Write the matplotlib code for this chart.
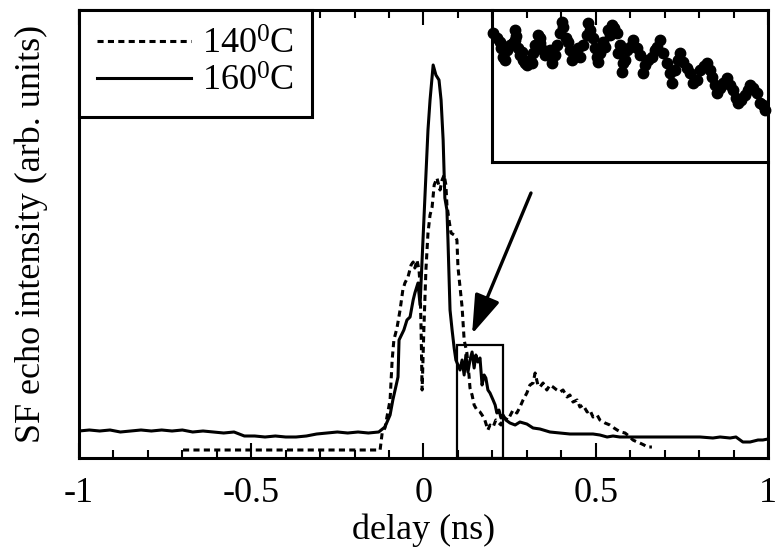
import matplotlib
matplotlib.use("Agg")
from matplotlib import pyplot as plt
from matplotlib.ticker import MultipleLocator, NullLocator
from matplotlib.patches import Rectangle

plt.rcParams['font.family'] = ['Liberation Serif', 'DejaVu Serif']
plt.rcParams['mathtext.fontset'] = 'custom'
plt.rcParams['mathtext.rm'] = 'Liberation Serif'

# 160 C trace (solid): delay (ns), intensity (arb. units)
t160 = [-1.00, -0.97, -0.94, -0.91, -0.88, -0.85, -0.82, -0.79, -0.76, -0.73,
        -0.70, -0.67, -0.64, -0.61, -0.58, -0.55, -0.52, -0.49, -0.46, -0.43,
        -0.40, -0.37, -0.34, -0.31, -0.28, -0.25, -0.22, -0.19, -0.16, -0.13,
        -0.112, -0.097, -0.089, -0.074, -0.071, -0.057, -0.048, -0.039, -0.030,
        -0.025, -0.016, -0.010, 0.004, 0.013, 0.019, 0.028, 0.036, 0.045, 0.051,
        0.057, 0.062, 0.068, 0.071, 0.077, 0.083, 0.089, 0.094, 0.100, 0.106,
        0.112, 0.118, 0.123, 0.129, 0.135, 0.141, 0.147, 0.152, 0.158, 0.164,
        0.170, 0.176, 0.181, 0.187, 0.193, 0.202, 0.208, 0.213, 0.219, 0.225,
        0.231, 0.239, 0.251, 0.266, 0.280, 0.300, 0.318, 0.338, 0.367, 0.396,
        0.425, 0.454, 0.492, 0.512, 0.533, 0.550, 0.570, 0.628, 0.686, 0.745,
        0.803, 0.840, 0.861, 0.890, 0.907, 0.927, 0.948, 0.971, 0.985, 1.000]
s160 = [0.27, 0.28, 0.27, 0.28, 0.26, 0.27, 0.28, 0.27, 0.28, 0.27,
        0.28, 0.26, 0.27, 0.26, 0.25, 0.26, 0.22, 0.22, 0.21, 0.22,
        0.21, 0.21, 0.22, 0.24, 0.25, 0.26, 0.25, 0.26, 0.25, 0.26,
        0.31, 0.43, 0.58, 0.81, 1.18, 1.28, 1.38, 1.41, 1.58,
        1.65, 1.75, 1.53, 2.60, 3.28, 3.58, 3.93, 3.83, 3.78, 3.58,
        3.18, 2.60, 2.48, 2.18, 1.48, 1.28, 1.10, 0.98, 0.93, 0.88,
        0.98, 0.83, 1.03, 0.86, 0.98, 1.06, 0.90, 1.03, 0.96, 1.00,
        0.73, 0.83, 0.80, 0.68, 0.65, 0.58, 0.53, 0.45, 0.48, 0.40,
        0.43, 0.38, 0.35, 0.33, 0.36, 0.34, 0.30, 0.29, 0.26, 0.25,
        0.24, 0.24, 0.24, 0.23, 0.21, 0.22, 0.21, 0.21, 0.21, 0.21,
        0.21, 0.20, 0.21, 0.20, 0.21, 0.16, 0.16, 0.18, 0.18, 0.19]

# 140 C trace (dashed)
t140 = [-0.698, -0.60, -0.50, -0.40, -0.30, -0.20, -0.126, -0.120, -0.112,
        -0.097, -0.091, -0.086, -0.077, -0.068, -0.060, -0.054, -0.045, -0.036,
        -0.030, -0.025, -0.019, -0.013, -0.010, -0.007, -0.004, 0.001, 0.007,
        0.013, 0.019, 0.025, 0.031, 0.039, 0.048, 0.054, 0.060, 0.065, 0.068,
        0.074, 0.080, 0.089, 0.097, 0.100, 0.106, 0.112, 0.118, 0.123, 0.126,
        0.132, 0.135, 0.141, 0.147, 0.155, 0.164, 0.170, 0.178, 0.187, 0.193,
        0.202, 0.210, 0.216, 0.225, 0.231, 0.245, 0.260, 0.271, 0.280, 0.289,
        0.300, 0.309, 0.318, 0.324, 0.332, 0.338, 0.347, 0.358, 0.367, 0.376,
        0.387, 0.396, 0.405, 0.417, 0.425, 0.434, 0.446, 0.454, 0.463, 0.475,
        0.483, 0.492, 0.504, 0.512, 0.527, 0.541, 0.553, 0.562, 0.573, 0.585,
        0.596, 0.608, 0.620, 0.628, 0.640, 0.649, 0.663]
s140 = [0.08, 0.08, 0.08, 0.08, 0.08, 0.08, 0.08, 0.25, 0.30,
        0.58, 0.98, 1.18, 1.30, 1.48, 1.68, 1.75, 1.81, 1.93,
        1.96, 1.90, 1.98, 1.88, 1.73, 1.28, 0.68, 1.28, 1.88,
        2.25, 2.43, 2.51, 2.73, 2.80, 2.68, 2.78, 2.83, 2.73, 2.53,
        2.38, 2.25, 2.23, 2.18, 1.91, 1.71, 1.51, 1.18, 1.10, 1.05,
        0.83, 0.70, 0.63, 0.53, 0.48, 0.46, 0.43, 0.38, 0.28, 0.33,
        0.31, 0.38, 0.36, 0.33, 0.41, 0.38, 0.48, 0.45, 0.51, 0.58,
        0.65, 0.73, 0.75, 0.85, 0.73, 0.71, 0.75, 0.68, 0.73, 0.71,
        0.68, 0.66, 0.68, 0.61, 0.63, 0.56, 0.58, 0.51, 0.53, 0.46,
        0.48, 0.41, 0.43, 0.38, 0.35, 0.33, 0.30, 0.28, 0.26, 0.25,
        0.22, 0.18, 0.16, 0.15, 0.13, 0.11, 0.11]

# inset: magnified 160 C points inside the boxed window (arb. units)
inset_x = [1, 5, 8, 9, 11, 13, 15, 18, 21, 23, 24, 23, 26, 28, 30, 31, 33, 35,
           38, 40, 41, 43, 46, 48, 48, 51, 53, 56, 58, 60, 63, 65, 68, 70, 71,
           74, 76, 78, 80, 83, 86, 88, 91, 95, 96, 98, 101, 103, 105, 106, 108,
           111, 113, 116, 118, 120, 122, 125, 126, 128, 130, 131, 133, 135, 138,
           141, 145, 148, 151, 153, 156, 160, 163, 165, 168, 171, 175, 178, 180,
           183, 186, 188, 191, 195, 198, 201, 205, 208, 212, 215, 218, 220, 223,
           225, 228, 231, 235, 238, 241, 244, 246, 249, 253, 256, 258, 261, 265,
           268, 271, 273]
inset_y = [129, 124, 120, 114, 105, 102, 112, 117, 119, 132, 126, 122, 114, 107,
           110, 102, 99, 97, 102, 99, 109, 117, 127, 124, 119, 112, 107, 109, 112,
           99, 107, 117, 129, 140, 135, 124, 120, 112, 102, 107, 114, 105, 117,
           127, 139, 132, 124, 114, 105, 100, 109, 120, 115, 132, 127, 137, 134,
           129, 109, 117, 90, 99, 102, 112, 115, 122, 114, 107, 89, 97, 102, 105,
           112, 115, 122, 109, 99, 89, 79, 92, 102, 109, 100, 94, 89, 79, 82, 92,
           96, 99, 92, 85, 77, 69, 74, 79, 84, 77, 72, 64, 59, 62, 67, 72, 77, 74,
           69, 59, 57, 52]

box_t = (0.097, 0.231)
box_top = 1.13
arrow_tail = (0.312, 2.65)
arrow_head = (0.141, 1.24)

fig = plt.figure(figsize=(7.76, 5.58), dpi=100)
ax = fig.add_axes([79/776, 1-458/558, 689/776, 448/558])

ax.plot(t140, s140, color='k', lw=2.2, ls=(0, (2, 1.4)), label='140$\\mathregular{^0}$C')
ax.plot(t160, s160, color='k', lw=2.2, label='160$\\mathregular{^0}$C')

ax.add_patch(Rectangle((box_t[0], 0), box_t[1]-box_t[0], box_top,
                       fill=False, lw=1.6, ec='k'))
ax.annotate('', xy=arrow_head, xytext=arrow_tail,
            arrowprops=dict(arrowstyle='-|>,head_length=0.6,head_width=0.2',
                            mutation_scale=40, lw=2.4, color='k',
                            shrinkA=0, shrinkB=0))

ax.set_xlim(-1, 1)
ax.set_ylim(0, 4.48)
ax.xaxis.set_major_locator(MultipleLocator(0.5))
ax.xaxis.set_minor_locator(MultipleLocator(0.1))
ax.yaxis.set_major_locator(NullLocator())
ax.set_xticks([-1, -0.5, 0, 0.5, 1])
ax.set_xticklabels(['-1', '-0.5', '0', '0.5', '1'])
ax.tick_params(axis='x', which='both', direction='in', top=True, width=1.5,
               labelsize=26, pad=14)
ax.tick_params(axis='x', which='major', length=11)
ax.tick_params(axis='x', which='minor', length=5.5)
for sp in ax.spines.values():
    sp.set_linewidth(2.2)

ax.set_xlabel('delay (ns)', fontsize=26, labelpad=2)
ax.set_ylabel('SF echo intensity (arb. units)', fontsize=26, labelpad=22)

leg = ax.legend(loc='upper left', bbox_to_anchor=(0, 1), borderaxespad=0,
                fontsize=26, fancybox=False, framealpha=1, edgecolor='k',
                handlelength=2.6, handletextpad=0.3, labelspacing=0.12,
                borderpad=0.5)
leg.get_frame().set_linewidth(2.2)

ins = fig.add_axes([492/776, 1-162/558, 276/776, 152/558])
ins.plot(inset_x, inset_y, 'o', color='k', ms=7.5, clip_on=False)
ins.set_xlim(0, 276)
ins.set_ylim(0, 152)
ins.set_xticks([])
ins.set_yticks([])
ins.patch.set_alpha(0)
for name, sp in ins.spines.items():
    sp.set_linewidth(2.2)
    if name in ('top', 'right'):
        sp.set_visible(False)

fig.savefig('out.png', dpi=100)
